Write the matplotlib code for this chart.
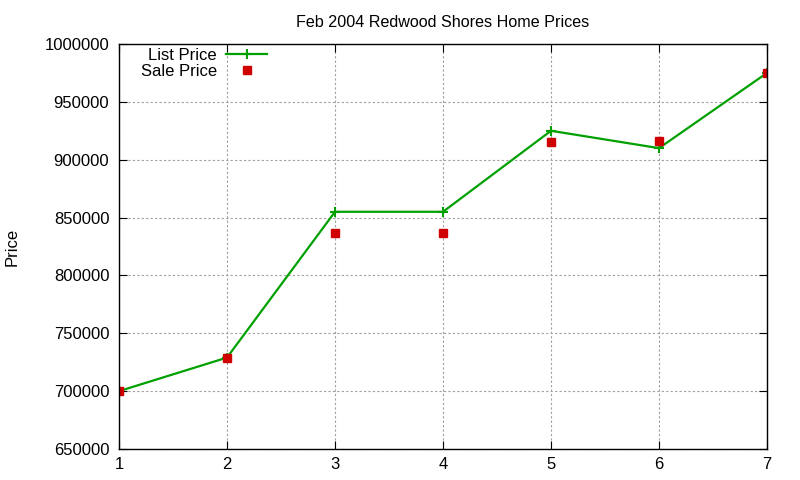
import numpy as np
import matplotlib.pyplot as plt

plt.rcParams['font.family'] = ['Liberation Sans', 'DejaVu Sans']

days = [1, 2, 3, 4, 5, 6, 7]
list_price = [700000, 729000, 855000, 855000, 925000, 910000, 975000]
sale_price = [700000, 729000, 837000, 837000, 915000, 916000, 975000]

fig = plt.figure(figsize=(8, 4.8), dpi=100)
ax = fig.add_axes([119 / 800, 1 - 449 / 480, (767 - 119) / 800, (449 - 44) / 480])

ax.plot(days, list_price, color='#00a000', linewidth=1.6, marker='+',
        markersize=7, markeredgewidth=1.5, label='List Price')
ax.plot(days, sale_price, linestyle='none', color='#d00000', marker='s',
        markersize=6, label='Sale Price')

ax.set_xlim(1, 7)
ax.set_ylim(650000, 1000000)
ax.set_xticks(days)
ax.set_yticks(np.arange(650000, 1000001, 50000))
ax.ticklabel_format(style='plain', axis='y')
ax.tick_params(direction='in', top=True, right=True, labelsize=12, length=6)
ax.tick_params(axis='y', pad=7)
ax.tick_params(axis='x', pad=6)
ax.grid(True, color='#a0a0a0', linestyle=(0, (2, 2)), linewidth=0.8)
for s in ax.spines.values():
    s.set_linewidth(1)

ax.set_title('Feb 2004 Redwood Shores Home Prices', fontsize=11.6, pad=12)
ax.set_ylabel('Price', fontsize=12)
ax.yaxis.set_label_coords(-0.153, 0.5)

ax.legend(loc='upper left', bbox_to_anchor=(141 / 800, 1 - 48 / 480),
          bbox_transform=fig.transFigure, frameon=False,
          markerfirst=False, fontsize=12, handlelength=2.45,
          handletextpad=0.55, labelspacing=0.08, borderpad=0, borderaxespad=0)

fig.savefig('out.png', dpi=100)
